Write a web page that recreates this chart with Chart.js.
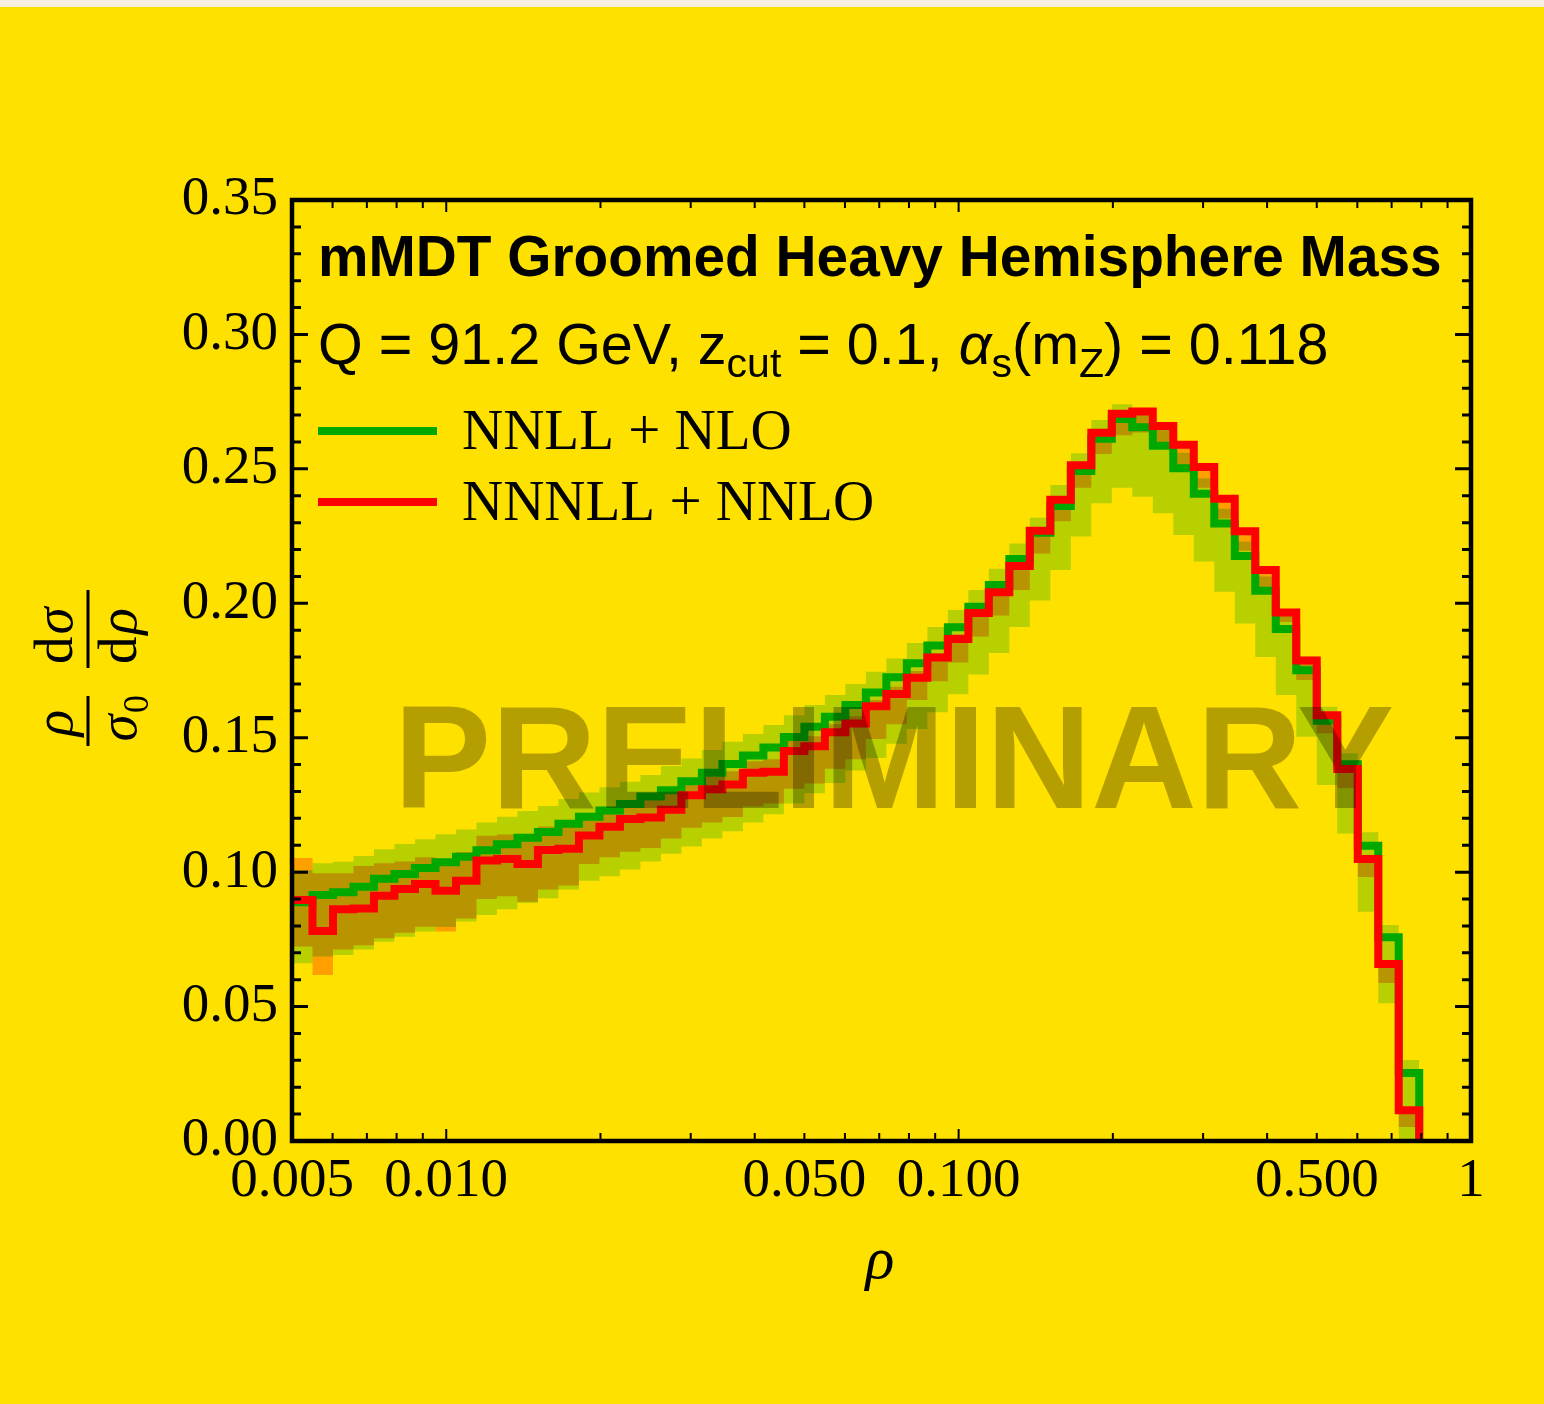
<!DOCTYPE html>
<html>
<head>
<meta charset="utf-8">
<style>
  html, body { margin: 0; padding: 0; background: #ffe100; }
  #strip { position: absolute; left: 0; top: 0; width: 1544px; height: 7px; background: #f7efe0; }
  canvas { display: block; }
</style>
<script src="https://cdn.jsdelivr.net/npm/chart.js@4.4.1/dist/chart.umd.min.js"></script>
</head>
<body>
<canvas id="chart" width="1544" height="1404"></canvas>
<div id="strip"></div>
<script>
// bin edges in rho (log spaced)
const binEdges = [
  0.005, 0.005483, 0.006012, 0.006592, 0.007227, 0.007924, 0.008689, 0.009528, 0.010447, 0.011455,
  0.012559, 0.013771, 0.015100, 0.016557, 0.018154, 0.019905, 0.021826, 0.023932, 0.026241, 0.028772,
  0.031548, 0.034592, 0.037929, 0.041588, 0.045600, 0.05, 0.05483, 0.06012, 0.06592, 0.07227,
  0.07924, 0.08689, 0.09528, 0.10447, 0.11455, 0.12559, 0.13771, 0.15100, 0.16557, 0.18154,
  0.19905, 0.21826, 0.23932, 0.26241, 0.28772, 0.31548, 0.34592, 0.37929, 0.41588, 0.45600,
  0.5, 0.5483, 0.6012, 0.6592, 0.7227, 0.7924
];

// NNLL + NLO (green)
const nnllNlo = [
  0.0888, 0.0915, 0.0925, 0.0946, 0.0975, 0.0993, 0.1015, 0.1037, 0.1057, 0.1081,
  0.1104, 0.1128, 0.1149, 0.1180, 0.1206, 0.1229, 0.1253, 0.1281, 0.1305, 0.1338,
  0.1370, 0.1402, 0.1434, 0.1464, 0.1503, 0.1541, 0.1578, 0.1622, 0.1668, 0.1725,
  0.1777, 0.1843, 0.1911, 0.1987, 0.2068, 0.2165, 0.2262, 0.2362, 0.2492, 0.2612,
  0.2685, 0.2655, 0.2586, 0.2502, 0.2407, 0.2297, 0.2176, 0.2047, 0.1904, 0.1751,
  0.1563, 0.1401, 0.1098, 0.0758, 0.0253
];
const nnllNloHigh = [
  0.1008, 0.1033, 0.1039, 0.1060, 0.1085, 0.1105, 0.1122, 0.1141, 0.1159, 0.1185,
  0.1206, 0.1227, 0.1246, 0.1272, 0.1296, 0.1316, 0.1336, 0.1361, 0.1395, 0.1423,
  0.1454, 0.1485, 0.1514, 0.1547, 0.1584, 0.1622, 0.1659, 0.1700, 0.1745, 0.1795,
  0.1852, 0.1912, 0.1975, 0.2049, 0.2128, 0.2222, 0.2318, 0.2440, 0.2558, 0.2682,
  0.2740, 0.2712, 0.2645, 0.2560, 0.2465, 0.2352, 0.2230, 0.2100, 0.1955, 0.1802,
  0.1615, 0.1442, 0.1148, 0.0803, 0.0301
];
const nnllNloLow = [
  0.0661, 0.0686, 0.0692, 0.0712, 0.0741, 0.0760, 0.0779, 0.0796, 0.0816, 0.0841,
  0.0862, 0.0885, 0.0903, 0.0935, 0.0968, 0.0985, 0.1010, 0.1040, 0.1068, 0.1095,
  0.1125, 0.1152, 0.1185, 0.1215, 0.1255, 0.1293, 0.1332, 0.1378, 0.1425, 0.1478,
  0.1532, 0.1595, 0.1662, 0.1735, 0.1815, 0.1912, 0.2010, 0.2124, 0.2248, 0.2372,
  0.2430, 0.2396, 0.2335, 0.2254, 0.2155, 0.2043, 0.1925, 0.1800, 0.1659, 0.1504,
  0.1324, 0.1144, 0.0853, 0.0512, 0.0004
];

// NNNLL + NNLO (red)
const nnnllNnlo = [
  0.0896, 0.0781, 0.0862, 0.0865, 0.0912, 0.0937, 0.0956, 0.0931, 0.0968, 0.1043,
  0.1049, 0.1030, 0.1082, 0.1087, 0.1136, 0.1169, 0.1198, 0.1203, 0.1232, 0.1286,
  0.1308, 0.1326, 0.1370, 0.1373, 0.1451, 0.1468, 0.1520, 0.1553, 0.1617, 0.1663,
  0.1723, 0.1798, 0.1867, 0.1964, 0.2041, 0.2139, 0.2270, 0.2385, 0.2513, 0.2634,
  0.2705, 0.2713, 0.2659, 0.2590, 0.2507, 0.2389, 0.2268, 0.2124, 0.1966, 0.1787,
  0.1584, 0.1384, 0.1049, 0.0658, 0.0114
];
const nnnllNnloHigh = [
  0.1053, 0.0996, 0.0996, 0.1023, 0.1033, 0.1040, 0.1055, 0.1045, 0.1075, 0.1135,
  0.1140, 0.1130, 0.1170, 0.1180, 0.1215, 0.1240, 0.1262, 0.1270, 0.1300, 0.1335,
  0.1355, 0.1375, 0.1412, 0.1420, 0.1490, 0.1505, 0.1550, 0.1580, 0.1640, 0.1690,
  0.1748, 0.1815, 0.1885, 0.1980, 0.2055, 0.2152, 0.2280, 0.2395, 0.2522, 0.2643,
  0.2713, 0.2720, 0.2666, 0.2597, 0.2514, 0.2396, 0.2275, 0.2131, 0.1973, 0.1794,
  0.1591, 0.1391, 0.1056, 0.0665, 0.0121
];
const nnnllNnloLow = [
  0.0723, 0.0617, 0.0712, 0.0728, 0.0754, 0.0775, 0.0797, 0.0779, 0.0828, 0.0900,
  0.0910, 0.0890, 0.0935, 0.0950, 0.1030, 0.1055, 0.1076, 0.1090, 0.1125, 0.1165,
  0.1185, 0.1205, 0.1244, 0.1255, 0.1310, 0.1330, 0.1385, 0.1420, 0.1495, 0.1550,
  0.1640, 0.1710, 0.1780, 0.1876, 0.1955, 0.2049, 0.2185, 0.2305, 0.2430, 0.2555,
  0.2625, 0.2635, 0.2585, 0.2515, 0.2430, 0.2315, 0.2195, 0.2050, 0.1930, 0.1715,
  0.1517, 0.1313, 0.0982, 0.0588, 0.0052
];

const xTickValues = [0.005, 0.01, 0.05, 0.1, 0.5, 1];
const xTickLabels = ['0.005', '0.010', '0.050', '0.100', '0.500', '1'];
const xMajorTicks = [0.01, 0.1];
const xMinorTicks = [0.006, 0.007, 0.008, 0.009, 0.02, 0.03, 0.04, 0.05, 0.06, 0.07, 0.08, 0.09,
  0.2, 0.3, 0.4, 0.5, 0.6, 0.7, 0.8, 0.9];
const yMajorTicks = [0, 0.05, 0.1, 0.15, 0.2, 0.25, 0.3, 0.35];
const yMinorTicks = [0.01, 0.02, 0.03, 0.04, 0.06, 0.07, 0.08, 0.09, 0.11, 0.12, 0.13, 0.14,
  0.16, 0.17, 0.18, 0.19, 0.21, 0.22, 0.23, 0.24, 0.26, 0.27, 0.28, 0.29, 0.31, 0.32, 0.33, 0.34];

const GREEN = '#00a800';
const RED = '#ff0000';
const SERIF = '"Liberation Serif", "Times New Roman", serif';
const SANS = '"Liberation Sans", Arial, sans-serif';

// histogram -> step points
function steps(vals, drop) {
  const pts = vals.map((v, i) => ({ x: binEdges[i], y: v }));
  const n = vals.length;
  pts.push({ x: binEdges[n], y: vals[n - 1] });
  if (drop) pts.push({ x: binEdges[n], y: 0 });
  return pts;
}

function band(vals, color, fill) {
  return {
    data: steps(vals, false),
    stepped: true,
    borderColor: 'transparent',
    borderWidth: 1,
    backgroundColor: color,
    pointRadius: 0,
    fill: fill
  };
}

const decorPlugin = {
  id: 'decor',
  beforeDraw(chart) {
    const ctx = chart.ctx;
    ctx.save();
    ctx.fillStyle = '#ffe100';
    ctx.fillRect(0, 0, chart.width, chart.height);
    ctx.restore();
    // bands are blended onto the background like in the original
    ctx.globalCompositeOperation = 'multiply';
  },
  beforeDatasetsDraw(chart) {
    chart.ctx.globalCompositeOperation = 'source-over';
  },
  afterDraw(chart) {
    const ctx = chart.ctx;
    const { left, right, top, bottom } = chart.chartArea;
    const xs = chart.scales.x, ys = chart.scales.y;
    ctx.save();
    ctx.globalCompositeOperation = 'source-over';

    // watermark
    ctx.fillStyle = 'rgba(0,0,0,0.29)';
    ctx.font = 'bold 146px ' + SANS;
    ctx.textAlign = 'center';
    ctx.textBaseline = 'alphabetic';
    ctx.fillText('PRELIMINARY', 894, 808);

    // frame
    ctx.strokeStyle = '#000';
    ctx.lineWidth = 4.5;
    ctx.strokeRect(left, top, right - left, bottom - top);

    // ticks (inside)
    ctx.lineWidth = 3;
    ctx.beginPath();
    yMajorTicks.concat(yMinorTicks).forEach(v => {
      const len = yMajorTicks.includes(v) ? 16 : 9;
      const py = ys.getPixelForValue(v);
      ctx.moveTo(left, py); ctx.lineTo(left + len, py);
      ctx.moveTo(right, py); ctx.lineTo(right - len, py);
    });
    ctx.stroke();
    ctx.lineWidth = 2;
    ctx.beginPath();
    xMajorTicks.concat(xMinorTicks).forEach(v => {
      const len = xMajorTicks.includes(v) ? 12 : 8;
      const px = xs.getPixelForValue(v);
      ctx.moveTo(px, bottom); ctx.lineTo(px, bottom - len);
      ctx.moveTo(px, top); ctx.lineTo(px, top + len);
    });
    ctx.stroke();

    // title lines
    ctx.fillStyle = '#000';
    ctx.textAlign = 'left';
    ctx.font = 'bold 56.8px ' + SANS;
    ctx.fillText('mMDT Groomed Heavy Hemisphere Mass', 318, 276);

    const parts = [
      ['Q = 91.2 GeV, z', '57.5px ' + SANS, 0],
      ['cut', '41px ' + SANS, 13],
      [' = 0.1, ', '57.5px ' + SANS, 0],
      ['\u03b1', 'italic 57.5px ' + SANS, 0],
      ['s', '41px ' + SANS, 13],
      ['(m', '57.5px ' + SANS, 0],
      ['Z', '41px ' + SANS, 13],
      [') = 0.118', '57.5px ' + SANS, 0]
    ];
    let x = 318;
    parts.forEach(([t, f, dy]) => {
      ctx.font = f;
      ctx.fillText(t, x, 364 + dy);
      x += ctx.measureText(t).width;
    });

    // legend
    ctx.lineWidth = 8;
    ctx.strokeStyle = GREEN;
    ctx.beginPath(); ctx.moveTo(318, 431); ctx.lineTo(437, 431); ctx.stroke();
    ctx.strokeStyle = RED;
    ctx.beginPath(); ctx.moveTo(318, 502); ctx.lineTo(437, 502); ctx.stroke();
    ctx.font = '57px ' + SERIF;
    ctx.fillText('NNLL + NLO', 462, 449);
    ctx.fillText('NNNLL + NNLO', 462, 520);

    // x axis title
    ctx.font = 'italic 60px ' + SERIF;
    ctx.textAlign = 'center';
    ctx.fillText('\u03c1', 880, 1278);

    // y axis title: (rho / sigma0) (d sigma / d rho), rotated
    ctx.translate(88, 668);
    ctx.rotate(-Math.PI / 2);
    ctx.textAlign = 'center';
    ctx.lineWidth = 3;
    ctx.strokeStyle = '#000';
    // first fraction
    ctx.font = 'italic 55px ' + SERIF;
    ctx.fillText('\u03c1', -55, -16);
    ctx.fillText('\u03c3', -60, 48);
    ctx.font = '36px ' + SERIF;
    ctx.fillText('0', -36, 60);
    ctx.beginPath(); ctx.moveTo(-78, 0); ctx.lineTo(-28, 0); ctx.stroke();
    // second fraction
    ctx.font = '55px ' + SERIF;
    ctx.textAlign = 'left';
    ctx.fillText('d', 4, -16);
    ctx.fillText('d', 4, 48);
    let w = ctx.measureText('d').width;
    ctx.font = 'italic 55px ' + SERIF;
    ctx.fillText('\u03c3', 4 + w + 2, -16);
    ctx.fillText('\u03c1', 4 + w + 2, 48);
    ctx.beginPath(); ctx.moveTo(0, 0); ctx.lineTo(78, 0); ctx.stroke();
    ctx.restore();
  }
};

new Chart(document.getElementById('chart'), {
  type: 'line',
  data: {
    datasets: [
      {
        label: 'NNNLL + NNLO',
        data: steps(nnnllNnlo, true),
        stepped: true,
        borderColor: RED,
        borderWidth: 8,
        borderJoinStyle: 'miter',
        pointRadius: 0,
        fill: false
      },
      {
        label: 'NNLL + NLO',
        data: steps(nnllNlo, true),
        stepped: true,
        borderColor: GREEN,
        borderWidth: 8,
        borderJoinStyle: 'miter',
        pointRadius: 0,
        fill: false
      },
      band(nnllNloLow, 'rgb(184,236,0)', false),
      band(nnllNloHigh, 'rgb(184,236,0)', '-1'),
      band(nnnllNnloLow, 'rgb(255,181,0)', false),
      band(nnnllNnloHigh, 'rgb(255,181,0)', '-1')
    ]
  },
  options: {
    responsive: false,
    animation: false,
    layout: { padding: { left: 0, top: 200, right: 73, bottom: 0 } },
    plugins: {
      legend: { display: false },
      tooltip: { enabled: false },
      filler: { drawTime: 'beforeDatasetsDraw', propagate: false }
    },
    scales: {
      x: {
        type: 'logarithmic',
        min: 0.005,
        max: 1,
        grid: { display: false, drawTicks: false },
        border: { display: false },
        afterBuildTicks: axis => { axis.ticks = xTickValues.map(v => ({ value: v })); },
        afterFit: axis => { axis.height = 263; },
        ticks: {
          autoSkip: false,
          maxRotation: 0,
          padding: 8,
          color: '#000',
          font: { family: SERIF, size: 55 },
          callback: (v, i) => xTickLabels[i]
        }
      },
      y: {
        min: 0,
        max: 0.35,
        grid: { display: false, drawTicks: false },
        border: { display: false },
        afterBuildTicks: axis => { axis.ticks = yMajorTicks.map(v => ({ value: v })); },
        afterFit: axis => { axis.width = 292; },
        ticks: {
          padding: 14,
          color: '#000',
          font: { family: SERIF, size: 55 },
          callback: v => v.toFixed(2)
        }
      }
    }
  },
  plugins: [decorPlugin]
});
</script>
</body>
</html>
